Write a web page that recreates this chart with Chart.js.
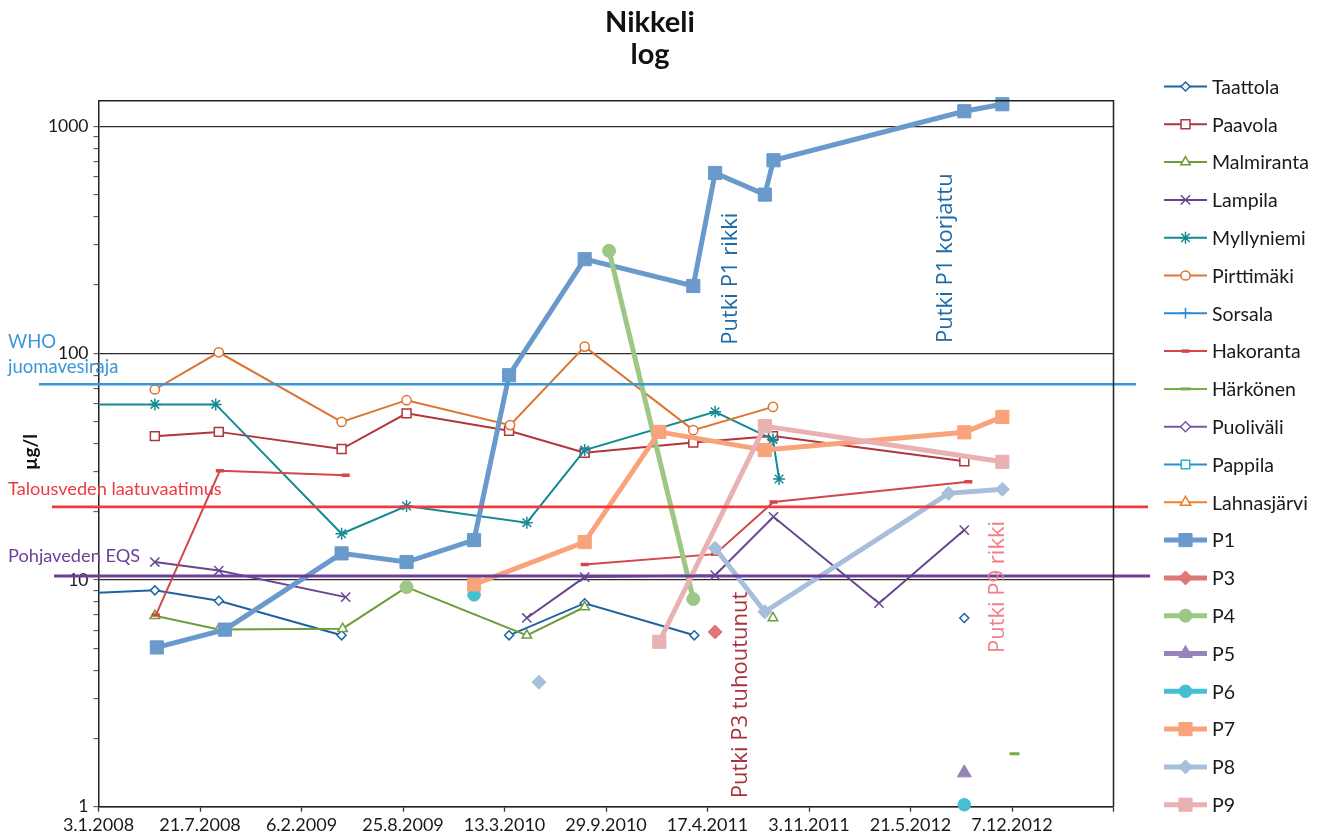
<!DOCTYPE html>
<html>
<head>
<meta charset="utf-8">
<title>Nikkeli log</title>
<script src="https://cdn.jsdelivr.net/npm/chart.js@4.4.1/dist/chart.umd.min.js"></script>
<style>
  html, body { margin: 0; padding: 0; background: #fff; }
  #wrap { width: 1320px; height: 840px; }
</style>
</head>
<body>
<div id="wrap"><canvas id="chart" width="1320" height="840"></canvas></div>
<script>
// ---- sample series: [date, µg/l]; a null value breaks the line ----
const taattola = [['2007-09-25', 8.6], ['2008-04-23', 9.0], ['2008-08-27', 8.1], ['2009-04-26', 5.7], ['2009-10-01', null],
  ['2010-03-22', 5.7], ['2010-08-18', 7.9], ['2011-03-22', 5.7], ['2011-10-01', null], ['2012-09-04', 6.8]];
const paavola = [['2008-04-23', 43.1], ['2008-08-27', 45.0], ['2009-04-26', 37.8], ['2009-09-01', 54.3], ['2010-03-22', 45.5],
  ['2010-08-18', 36.4], ['2011-03-20', 40.4], ['2011-08-24', 43.1], ['2012-09-04', 33.4]];
const malmiranta = [['2008-04-23', 6.95], ['2008-08-27', 6.05], ['2009-04-28', 6.1], ['2009-09-01', 9.3], ['2010-04-26', 5.7],
  ['2010-08-18', 7.6], ['2011-01-01', null], ['2011-08-24', 6.8]];
const lampila = [['2008-04-23', 12.0], ['2008-08-27', 11.0], ['2009-05-04', 8.4], ['2009-10-01', null], ['2010-04-26', 6.8],
  ['2010-08-18', 10.3], ['2011-05-02', 10.5], ['2011-08-25', 19.0], ['2012-03-20', 7.9], ['2012-09-04', 16.6]];
const myllyniemi = [['2007-09-25', 59.5], ['2008-04-23', 59.5], ['2008-08-21', 59.5], ['2009-04-26', 16.0], ['2009-09-01', 21.2],
  ['2010-04-26', 17.9], ['2010-08-18', 37.4], ['2011-05-02', 55.2], ['2011-08-24', 41.7], ['2011-09-05', 27.9]];
const pirttimaki = [['2008-04-23', 69.2], ['2008-08-27', 101], ['2009-04-26', 49.8], ['2009-09-01', 62.1], ['2010-03-24', 48.2],
  ['2010-08-18', 107], ['2011-03-20', 45.8], ['2011-08-24', 58.0]];
const sorsala = [];
const hakoranta = [['2008-04-25', 7.0], ['2008-08-29', 30.3], ['2009-05-04', 29.0], ['2009-10-01', null], ['2010-08-18', 11.7],
  ['2011-05-02', 13.0], ['2011-08-25', 22.1], ['2012-09-12', 27.1]];
const harkonen = [['2012-12-12', 1.71]];
const puolivali = [];
const pappila = [];
const lahnasjarvi = [];
const p1 = [['2008-04-27', 5.04], ['2008-09-08', 6.04], ['2009-04-26', 13.1], ['2009-09-01', 12.0], ['2010-01-12', 15.0],
  ['2010-03-22', 80], ['2010-08-18', 260], ['2011-03-20', 198], ['2011-05-02', 624], ['2011-08-08', 501],
  ['2011-08-25', 710], ['2012-09-04', 1168], ['2012-11-18', 1254]];
const p3 = [['2011-05-02', 5.9]];
const p4 = [['2009-09-01', 9.3], ['2010-03-01', null], ['2010-10-05', 283], ['2011-03-20', 8.24]];
const p5 = [['2012-09-04', 1.41]];
const p6 = [['2010-01-12', 8.6], ['2011-01-01', null], ['2012-09-04', 1.02]];
const p7 = [['2010-01-12', 9.56], ['2010-08-18', 14.7], ['2011-01-12', 45.0], ['2011-08-08', 37.4], ['2012-09-04', 44.8], ['2012-11-18', 52.4]];
const p8 = [['2010-05-20', 3.54], ['2010-10-01', null], ['2011-05-02', 13.8], ['2011-08-08', 7.24], ['2012-08-04', 24.1], ['2012-11-18', 25.1]];
const p9 = [['2011-01-12', 5.34], ['2011-08-08', 47.7], ['2012-11-18', 33.2]];

const seriesNames = ['Taattola', 'Paavola', 'Malmiranta', 'Lampila', 'Myllyniemi', 'Pirttimäki', 'Sorsala', 'Hakoranta',
  'Härkönen', 'Puoliväli', 'Pappila', 'Lahnasjärvi', 'P1', 'P3', 'P4', 'P5', 'P6', 'P7', 'P8', 'P9'];
const seriesData = [taattola, paavola, malmiranta, lampila, myllyniemi, pirttimaki, sorsala, hakoranta,
  harkonen, puolivali, pappila, lahnasjarvi, p1, p3, p4, p5, p6, p7, p8, p9];

// reference levels (µg/l)
const limitValues = [73, 21, 10.4];
const limitNames = [['WHO', 'juomavesiraja'], ['Talousveden laatuvaatimus'], ['Pohjaveden EQS']];

// notes about the sampling pipes: text, date, value where the text starts
const noteTexts = ['Putki P1 rikki', 'Putki P1 korjattu', 'Putki P3 tuhoutunut', 'Putki P9 rikki'];
const noteDates = ['2011-06-14', '2012-08-11', '2011-07-04', '2012-11-22'];
const noteValues = [109, 111, 1.09, 4.76];

// axis: days counted from 3.1.2008, one tick every 200 days
const axisStart = '2008-01-03';
const axisDays = [0, 2000];
const tickStepDays = 200;
const yRange = [1, 1300];

// ---- styles ----
const styles = [
  { color: '#1E63A0', width: 2, point: 'rectRot', r: 4.5, open: true },
  { color: '#B0363C', width: 2, point: 'rect', r: 6.3, open: true },
  { color: '#6E9E3A', width: 2, point: 'triangle', r: 5.5, open: true },
  { color: '#66468E', width: 2, point: 'crossRot', r: 6.5, open: true },
  { color: '#138A94', width: 2, point: 'star', r: 6, open: true },
  { color: '#DD7530', width: 2, point: 'circle', r: 4.6, open: true },
  { color: '#2E88CF', width: 2, point: 'cross', r: 5.5, open: true },
  { color: '#D2474A', width: 2, point: 'line', r: 4, pw: 3.5 },
  { color: '#74B045', width: 2, point: 'line', r: 5, pw: 3 },
  { color: '#7B58A6', width: 2, point: 'rectRot', r: 5, open: true },
  { color: '#2F8ACF', width: 2, point: 'rect', r: 6, open: true, mark: '#27B5CE' },
  { color: '#F07F2E', width: 2, point: 'triangle', r: 6, open: true },
  { color: '#6A99CB', width: 5, point: 'rect', r: 9.3 },
  { color: '#E07676', width: 5, point: 'rectRot', r: 7 },
  { color: '#9CC784', width: 5, point: 'circle', r: 6.5 },
  { color: '#9683BA', width: 5, point: 'triangle', r: 8 },
  { color: '#46BFD1', width: 5, point: 'circle', r: 6.3 },
  { color: '#F8A37B', width: 5, point: 'rect', r: 9.3 },
  { color: '#A7BFDC', width: 5, point: 'rectRot', r: 7 },
  { color: '#E9B1B1', width: 5, point: 'rect', r: 9.3 }
];
const limitStyles = [
  { color: '#3A97D6', width: 2.6, x0: 39, x1: 1136, lines: [[8, -36.5, 18.5], [8, -11, 18.5]] },
  { color: '#EE3A40', width: 2.6, x0: 52, x1: 1148, lines: [[8, -11.7, 18.2]] },
  { color: '#6D3F98', width: 3, x0: 54, x1: 1150, lines: [[8, -13.7, 18.2]] }
];
const noteColors = ['#1D6AA6', '#1D6AA6', '#A8323C', '#F07F8A'];

const DAY = 86400000;
const START = Date.parse(axisStart + 'T00:00:00Z');
const dayOf = s => (Date.parse(s + 'T00:00:00Z') - START) / DAY;
const fmtDate = day => {
  const d = new Date(START + day * DAY);
  return d.getUTCDate() + '.' + (d.getUTCMonth() + 1) + '.' + d.getUTCFullYear();
};
const isDecade = v => Math.abs(Math.log10(v) - Math.round(Math.log10(v))) < 1e-9;

const yTickValues = [];
for (let dec = 1; dec <= 1000; dec *= 10) {
  for (let m = 1; m <= 9; m++) if (m * dec <= yRange[1]) yTickValues.push(m * dec);
}

function buildChart() {
  const datasets = seriesNames.map((name, i) => {
    const s = styles[i];
    return {
      label: name,
      data: seriesData[i].map(([d, v]) => ({ x: dayOf(d), y: v })),
      borderColor: s.color,
      borderWidth: s.width,
      pointStyle: s.point,
      pointRadius: s.r,
      pointHoverRadius: s.r,
      pointBorderWidth: s.pw ?? (s.open ? 1.5 : 1),
      pointBorderColor: s.mark ?? s.color,
      pointBackgroundColor: s.open ? '#ffffff' : (s.mark ?? s.color),
      spanGaps: false,
      tension: 0,
      order: seriesNames.length - i,
      clip: { left: 0, top: 12, right: 12, bottom: 12 }
    };
  });

  const decor = {
    id: 'decor',
    beforeDraw(chart) {
      const ctx = chart.ctx;
      ctx.save();
      ctx.fillStyle = '#ffffff';
      ctx.fillRect(0, 0, chart.width, chart.height);
      ctx.restore();
    },
    afterDatasetsDraw(chart) {
      const ctx = chart.ctx;
      const y = chart.scales.y, x = chart.scales.x;
      // reference level lines and their captions
      limitValues.forEach((v, i) => {
        const st = limitStyles[i];
        const py = y.getPixelForValue(v);
        ctx.save();
        ctx.strokeStyle = st.color;
        ctx.lineWidth = st.width;
        ctx.beginPath();
        ctx.moveTo(st.x0, py);
        ctx.lineTo(st.x1, py);
        ctx.stroke();
        ctx.fillStyle = st.color;
        ctx.textAlign = 'left';
        ctx.textBaseline = 'alphabetic';
        limitNames[i].forEach((t, k) => {
          const [lx, dy, fs] = st.lines[k];
          ctx.font = fs + 'px Lato';
          ctx.fillText(t, lx, py + dy);
        });
        ctx.restore();
      });
      // vertical notes
      noteTexts.forEach((t, i) => {
        const px = x.getPixelForValue(dayOf(noteDates[i]));
        const py = y.getPixelForValue(noteValues[i]);
        ctx.save();
        ctx.translate(px, py);
        ctx.rotate(-Math.PI / 2);
        ctx.font = '22px "Open Sans"';
        ctx.fillStyle = noteColors[i];
        ctx.textAlign = 'left';
        ctx.textBaseline = 'alphabetic';
        ctx.fillText(t, 0, 0);
        ctx.restore();
      });
    },
    afterDraw(chart) {
      const ctx = chart.ctx;
      const a = chart.chartArea;
      ctx.save();
      // frame of the plot area (top and right edges)
      ctx.strokeStyle = '#222';
      ctx.lineWidth = 1.5;
      ctx.beginPath();
      ctx.moveTo(a.left, a.top);
      ctx.lineTo(a.right, a.top);
      ctx.lineTo(a.right, a.bottom);
      ctx.stroke();

      // title
      ctx.fillStyle = '#111';
      ctx.textAlign = 'center';
      ctx.textBaseline = 'alphabetic';
      ctx.font = 'bold 29px Lato';
      ctx.fillText('Nikkeli', 650, 32);
      ctx.fillText('log', 650, 64);

      // y-axis title
      ctx.save();
      ctx.translate(31, 452);
      ctx.rotate(-Math.PI / 2);
      ctx.font = 'bold 19px Lato';
      ctx.textBaseline = 'middle';
      ctx.fillText('µg/l', 0, 0);
      ctx.restore();

      // legend
      chart.data.datasets.forEach((ds, i) => {
        const ly = 86.5 + 37.8 * i;
        ctx.save();
        ctx.strokeStyle = ds.borderColor;
        ctx.lineWidth = ds.borderWidth;
        ctx.beginPath();
        ctx.moveTo(1164, ly);
        ctx.lineTo(1207, ly);
        ctx.stroke();
        ctx.fillStyle = ds.pointBackgroundColor;
        ctx.strokeStyle = ds.pointBorderColor;
        ctx.lineWidth = ds.pointBorderWidth;
        Chart.helpers.drawPoint(ctx, {
          pointStyle: ds.pointStyle, radius: ds.pointRadius,
          borderWidth: ds.pointBorderWidth, rotation: 0
        }, 1185.5, ly);
        ctx.restore();
        ctx.fillStyle = '#1a1a1a';
        ctx.font = '19.5px Lato';
        ctx.textAlign = 'left';
        ctx.textBaseline = 'middle';
        ctx.fillText(ds.label, 1212, ly + 1);
      });
      ctx.restore();
    }
  };

  new Chart(document.getElementById('chart'), {
    type: 'line',
    data: { datasets },
    plugins: [decor],
    options: {
      responsive: false,
      animation: false,
      events: [],
      devicePixelRatio: 1,
      layout: { padding: { left: 0, top: 100.7, right: 206.5, bottom: 0 } },
      plugins: { legend: { display: false }, title: { display: false }, tooltip: { enabled: false } },
      scales: {
        x: {
          type: 'linear',
          min: axisDays[0],
          max: axisDays[1],
          afterFit: s => { s.height = 33.3; },
          ticks: {
            stepSize: tickStepDays, autoSkip: false, maxRotation: 0, padding: 3,
            color: '#1a1a1a', font: { family: 'Lato', size: 18 },
            callback: v => (v >= axisDays[1] ? '' : fmtDate(v))
          },
          grid: { drawOnChartArea: false, drawTicks: true, tickLength: 5, tickColor: '#333', tickWidth: 1.3 },
          border: { display: true, color: '#222', width: 1.5 }
        },
        y: {
          type: 'logarithmic',
          min: yRange[0],
          max: yRange[1],
          afterFit: s => { s.width = 98.5; },
          afterBuildTicks: s => { s.ticks = yTickValues.map(v => ({ value: v })); },
          ticks: {
            autoSkip: false, padding: 5, color: '#1a1a1a', font: { family: 'Lato', size: 17.5 },
            callback: v => (isDecade(v) ? String(Math.round(v)) : '')
          },
          grid: {
            color: c => (c.tick && isDecade(c.tick.value) ? '#2a2a2a' : 'rgba(0,0,0,0)'),
            tickColor: '#444', lineWidth: 1.3, tickLength: 5, tickWidth: 1
          },
          border: { display: true, color: '#222', width: 1.5 }
        }
      }
    }
  });
}

Promise.all(['18px Lato', 'bold 19px Lato', '22px "Open Sans"'].map(f => document.fonts.load(f)))
  .then(buildChart, buildChart);
</script>
</body>
</html>
